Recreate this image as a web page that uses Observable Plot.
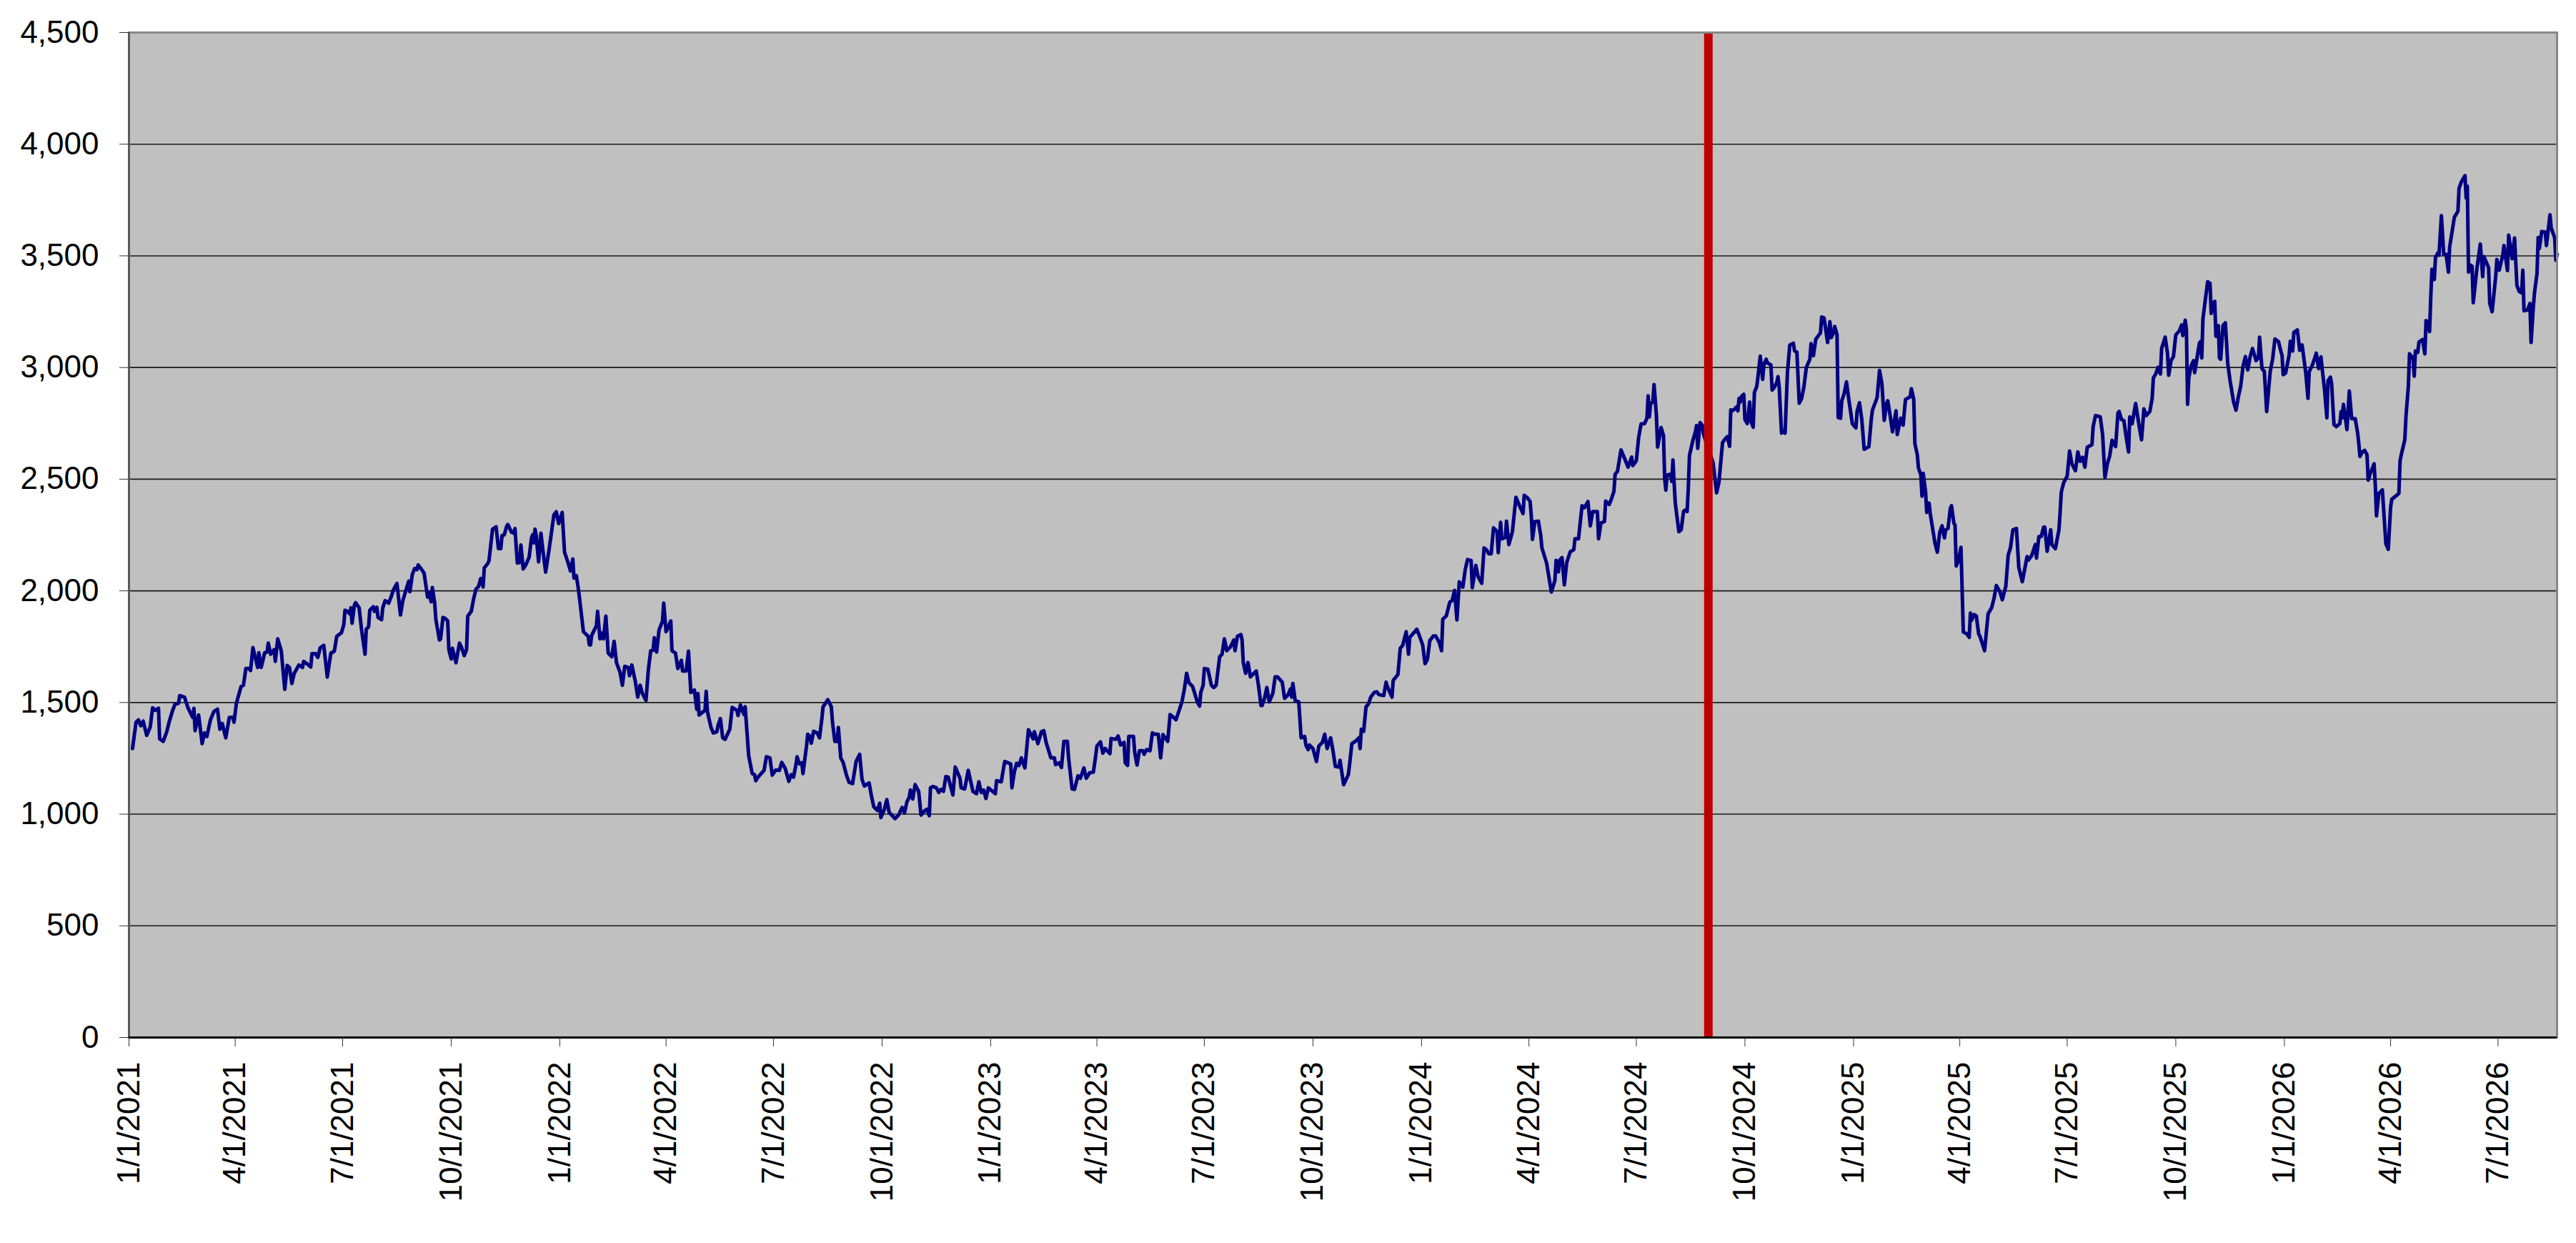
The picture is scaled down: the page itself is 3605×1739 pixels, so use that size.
<!DOCTYPE html>
<html>
<head>
<meta charset="utf-8">
<script src="https://cdn.jsdelivr.net/npm/d3@7"></script>
<script src="https://cdn.jsdelivr.net/npm/@observablehq/plot@0.6"></script>
<style>
html, body { margin: 0; padding: 0; background: #ffffff; }
#chart svg { display: block; }
</style>
</head>
<body>
<div id="chart"></div>
<script>
const dates = [
"2021-01-04","2021-01-07","2021-01-09","2021-01-11","2021-01-13","2021-01-16","2021-01-19","2021-01-21","2021-01-23","2021-01-26","2021-01-27","2021-01-30",
"2021-02-02","2021-02-04","2021-02-07","2021-02-09","2021-02-12","2021-02-13","2021-02-17","2021-02-20","2021-02-24","2021-02-25","2021-02-26",
"2021-03-01","2021-03-04","2021-03-06","2021-03-08","2021-03-11","2021-03-14","2021-03-17","2021-03-19","2021-03-21","2021-03-24","2021-03-27","2021-03-30","2021-03-31",
"2021-04-02","2021-04-06","2021-04-08","2021-04-10","2021-04-13","2021-04-14","2021-04-16","2021-04-20","2021-04-21","2021-04-23","2021-04-26","2021-04-28","2021-04-29",
"2021-05-01","2021-05-04","2021-05-05","2021-05-07","2021-05-10","2021-05-13","2021-05-15","2021-05-17","2021-05-19","2021-05-21","2021-05-25","2021-05-28","2021-05-29",
"2021-06-01","2021-06-04","2021-06-05","2021-06-08","2021-06-10","2021-06-12","2021-06-15","2021-06-16","2021-06-18","2021-06-21","2021-06-24","2021-06-26","2021-06-30",
"2021-07-02","2021-07-03","2021-07-05","2021-07-07","2021-07-08","2021-07-09","2021-07-11","2021-07-12","2021-07-15","2021-07-17","2021-07-20","2021-07-21","2021-07-23","2021-07-24","2021-07-27","2021-07-28","2021-07-30","2021-07-31",
"2021-08-03","2021-08-04","2021-08-06","2021-08-09","2021-08-11","2021-08-13","2021-08-16","2021-08-19","2021-08-21","2021-08-24","2021-08-26","2021-08-27","2021-08-29","2021-08-31",
"2021-09-02","2021-09-03","2021-09-06","2021-09-08","2021-09-11","2021-09-12","2021-09-14","2021-09-15","2021-09-17","2021-09-18","2021-09-21","2021-09-22","2021-09-24","2021-09-26","2021-09-28","2021-09-29",
"2021-10-01","2021-10-02","2021-10-05","2021-10-08","2021-10-10","2021-10-12","2021-10-14","2021-10-15","2021-10-18","2021-10-20","2021-10-22","2021-10-24","2021-10-26","2021-10-28","2021-10-29",
"2021-11-01","2021-11-02","2021-11-05","2021-11-08","2021-11-10","2021-11-12","2021-11-13","2021-11-15","2021-11-17","2021-11-18","2021-11-21","2021-11-23","2021-11-24","2021-11-26","2021-11-28","2021-11-29",
"2021-12-01","2021-12-03","2021-12-06","2021-12-08","2021-12-09","2021-12-10","2021-12-11","2021-12-12","2021-12-14","2021-12-16","2021-12-18","2021-12-20","2021-12-23","2021-12-25","2021-12-27","2021-12-29","2021-12-31",
"2022-01-03","2022-01-05","2022-01-08","2022-01-10","2022-01-12","2022-01-13","2022-01-15","2022-01-17","2022-01-21","2022-01-25","2022-01-26","2022-01-27","2022-01-28",
"2022-02-01","2022-02-02","2022-02-04","2022-02-05","2022-02-07","2022-02-09","2022-02-11","2022-02-14","2022-02-16","2022-02-18","2022-02-21","2022-02-23","2022-02-25","2022-02-28",
"2022-03-01","2022-03-03","2022-03-06","2022-03-08","2022-03-10","2022-03-12","2022-03-15","2022-03-17","2022-03-19","2022-03-21","2022-03-22","2022-03-24","2022-03-26","2022-03-29","2022-03-30",
"2022-04-01","2022-04-02","2022-04-05","2022-04-06","2022-04-09","2022-04-11","2022-04-14","2022-04-15","2022-04-18","2022-04-20","2022-04-22","2022-04-25","2022-04-27","2022-04-28","2022-04-29",
"2022-05-04","2022-05-05","2022-05-06","2022-05-09","2022-05-11","2022-05-14","2022-05-15","2022-05-17","2022-05-19","2022-05-21","2022-05-24","2022-05-25","2022-05-27","2022-05-31",
"2022-06-01","2022-06-03","2022-06-06","2022-06-07","2022-06-10","2022-06-13","2022-06-15","2022-06-16","2022-06-18","2022-06-22","2022-06-23","2022-06-25","2022-06-28","2022-06-30",
"2022-07-03","2022-07-06","2022-07-08","2022-07-11","2022-07-14","2022-07-16","2022-07-18","2022-07-20","2022-07-21","2022-07-23","2022-07-25","2022-07-26","2022-07-29","2022-07-30",
"2022-08-01","2022-08-02","2022-08-04","2022-08-07","2022-08-09","2022-08-11","2022-08-12","2022-08-16","2022-08-19","2022-08-20","2022-08-22","2022-08-24","2022-08-25","2022-08-27","2022-08-29",
"2022-09-01","2022-09-03","2022-09-06","2022-09-09","2022-09-12","2022-09-14","2022-09-16","2022-09-20","2022-09-22","2022-09-24","2022-09-27","2022-09-29","2022-09-30",
"2022-10-03","2022-10-05","2022-10-07","2022-10-12","2022-10-15","2022-10-18","2022-10-20","2022-10-22","2022-10-24","2022-10-25","2022-10-27","2022-10-29",
"2022-11-01","2022-11-03","2022-11-06","2022-11-08","2022-11-10","2022-11-11","2022-11-13","2022-11-16","2022-11-18","2022-11-20","2022-11-22","2022-11-24","2022-11-26","2022-11-30",
"2022-12-02","2022-12-06","2022-12-07","2022-12-10","2022-12-13","2022-12-17","2022-12-20","2022-12-22","2022-12-24","2022-12-26","2022-12-28","2022-12-30",
"2023-01-02","2023-01-05","2023-01-06","2023-01-10","2023-01-12","2023-01-13","2023-01-18","2023-01-19","2023-01-21","2023-01-23","2023-01-25","2023-01-27","2023-01-30",
"2023-02-02","2023-02-06","2023-02-07","2023-02-10","2023-02-13","2023-02-15","2023-02-17","2023-02-21","2023-02-24","2023-02-25","2023-02-28",
"2023-03-02","2023-03-04","2023-03-07","2023-03-08","2023-03-11","2023-03-13","2023-03-16","2023-03-18","2023-03-21","2023-03-23","2023-03-26","2023-03-29","2023-03-31",
"2023-04-01","2023-04-04","2023-04-06","2023-04-08","2023-04-12","2023-04-13","2023-04-17","2023-04-19","2023-04-21","2023-04-24","2023-04-25","2023-04-27","2023-04-28",
"2023-05-02","2023-05-03","2023-05-05","2023-05-07","2023-05-10","2023-05-11","2023-05-13","2023-05-16","2023-05-18","2023-05-20","2023-05-23","2023-05-25","2023-05-27","2023-05-31",
"2023-06-02","2023-06-05","2023-06-07","2023-06-09","2023-06-12","2023-06-14","2023-06-16","2023-06-18","2023-06-21","2023-06-22","2023-06-25","2023-06-27","2023-06-28","2023-06-30",
"2023-07-01","2023-07-04","2023-07-07","2023-07-09","2023-07-11","2023-07-14","2023-07-16","2023-07-18","2023-07-20","2023-07-23","2023-07-26","2023-07-27","2023-07-29",
"2023-08-01","2023-08-02","2023-08-03","2023-08-05","2023-08-07","2023-08-09","2023-08-14","2023-08-16","2023-08-18","2023-08-19","2023-08-21","2023-08-23","2023-08-25","2023-08-28","2023-08-30",
"2023-09-01","2023-09-05","2023-09-07","2023-09-10","2023-09-12","2023-09-13","2023-09-14","2023-09-16","2023-09-19","2023-09-21","2023-09-24","2023-09-25","2023-09-27","2023-09-28",
"2023-10-01","2023-10-04","2023-10-06","2023-10-09","2023-10-11","2023-10-13","2023-10-16","2023-10-18","2023-10-20","2023-10-23","2023-10-24","2023-10-27","2023-10-31",
"2023-11-01","2023-11-03","2023-11-06","2023-11-09","2023-11-10","2023-11-11","2023-11-13","2023-11-15","2023-11-17","2023-11-19","2023-11-22","2023-11-24","2023-11-26","2023-11-30",
"2023-12-02","2023-12-03","2023-12-07","2023-12-08","2023-12-12","2023-12-14","2023-12-16","2023-12-19","2023-12-21","2023-12-22","2023-12-28","2023-12-30",
"2024-01-02","2024-01-04","2024-01-06","2024-01-08","2024-01-11","2024-01-13","2024-01-16","2024-01-18","2024-01-19","2024-01-22","2024-01-25","2024-01-27","2024-01-29","2024-01-31",
"2024-02-02","2024-02-05","2024-02-07","2024-02-09","2024-02-12","2024-02-13","2024-02-16","2024-02-18","2024-02-21","2024-02-23","2024-02-25","2024-02-27","2024-02-29",
"2024-03-02","2024-03-05","2024-03-06","2024-03-08","2024-03-09","2024-03-12","2024-03-13","2024-03-15","2024-03-18","2024-03-21","2024-03-24","2024-03-27","2024-03-28","2024-03-31",
"2024-04-02","2024-04-03","2024-04-04","2024-04-06","2024-04-09","2024-04-11","2024-04-12","2024-04-16","2024-04-18","2024-04-20","2024-04-23","2024-04-24","2024-04-26","2024-04-27","2024-04-29",
"2024-05-01","2024-05-03","2024-05-06","2024-05-09","2024-05-10","2024-05-13","2024-05-16","2024-05-18","2024-05-21","2024-05-23","2024-05-25","2024-05-29","2024-05-30",
"2024-06-01","2024-06-04","2024-06-05","2024-06-08","2024-06-10","2024-06-12","2024-06-13","2024-06-15","2024-06-18","2024-06-21","2024-06-24","2024-06-27","2024-06-28",
"2024-07-01","2024-07-03","2024-07-05","2024-07-08","2024-07-10","2024-07-11","2024-07-12","2024-07-13","2024-07-15","2024-07-16","2024-07-18","2024-07-19","2024-07-21","2024-07-22","2024-07-24","2024-07-25","2024-07-26","2024-07-27","2024-07-30","2024-07-31",
"2024-08-01","2024-08-02","2024-08-03","2024-08-06","2024-08-08","2024-08-10","2024-08-11","2024-08-13","2024-08-14","2024-08-15","2024-08-18","2024-08-20","2024-08-21","2024-08-22","2024-08-24","2024-08-26","2024-08-27",
"2024-09-04","2024-09-07","2024-09-09","2024-09-12","2024-09-14","2024-09-16","2024-09-18","2024-09-19","2024-09-21","2024-09-24","2024-09-25","2024-09-26","2024-09-27","2024-09-28","2024-09-30",
"2024-10-01","2024-10-03","2024-10-05","2024-10-06","2024-10-08","2024-10-09","2024-10-11","2024-10-12","2024-10-13","2024-10-14","2024-10-16","2024-10-17","2024-10-19","2024-10-20","2024-10-23","2024-10-24","2024-10-26","2024-10-28","2024-10-29","2024-10-30",
"2024-11-01","2024-11-03","2024-11-04","2024-11-06","2024-11-08","2024-11-11","2024-11-12","2024-11-14","2024-11-16","2024-11-18","2024-11-20","2024-11-22","2024-11-25","2024-11-26","2024-11-28","2024-11-30",
"2024-12-02","2024-12-04","2024-12-05","2024-12-07","2024-12-10","2024-12-12","2024-12-13","2024-12-15","2024-12-16","2024-12-18","2024-12-19","2024-12-21","2024-12-22","2024-12-24","2024-12-26","2024-12-28","2024-12-31",
"2025-01-03","2025-01-04","2025-01-06","2025-01-08","2025-01-10","2025-01-14","2025-01-16","2025-01-17","2025-01-21","2025-01-23","2025-01-25","2025-01-27","2025-01-29","2025-01-30",
"2025-02-01","2025-02-03","2025-02-06","2025-02-07","2025-02-10","2025-02-12","2025-02-14","2025-02-18","2025-02-19","2025-02-21","2025-02-22","2025-02-24","2025-02-25","2025-02-27","2025-02-28",
"2025-03-01","2025-03-03","2025-03-04","2025-03-06","2025-03-07","2025-03-11","2025-03-13","2025-03-15","2025-03-17","2025-03-19","2025-03-20","2025-03-22","2025-03-24","2025-03-25","2025-03-27","2025-03-28","2025-03-29","2025-03-31",
"2025-04-02","2025-04-04","2025-04-07","2025-04-09","2025-04-10","2025-04-11","2025-04-13","2025-04-15","2025-04-17","2025-04-18","2025-04-22","2025-04-25","2025-04-28","2025-04-30",
"2025-05-02","2025-05-05","2025-05-07","2025-05-10","2025-05-12","2025-05-14","2025-05-16","2025-05-19","2025-05-21","2025-05-24","2025-05-28","2025-05-29",
"2025-06-01","2025-06-04","2025-06-05","2025-06-07","2025-06-09","2025-06-11","2025-06-12","2025-06-14","2025-06-17","2025-06-18","2025-06-21","2025-06-24","2025-06-25","2025-06-26","2025-06-28",
"2025-07-01","2025-07-03","2025-07-05","2025-07-08","2025-07-10","2025-07-12","2025-07-14","2025-07-16","2025-07-18","2025-07-22","2025-07-23","2025-07-25","2025-07-29","2025-07-31",
"2025-08-02","2025-08-04","2025-08-06","2025-08-08","2025-08-11","2025-08-13","2025-08-14","2025-08-16","2025-08-18","2025-08-20","2025-08-22","2025-08-23","2025-08-25","2025-08-28","2025-08-31",
"2025-09-02","2025-09-04","2025-09-06","2025-09-09","2025-09-11","2025-09-12","2025-09-14","2025-09-16","2025-09-18","2025-09-19","2025-09-22","2025-09-24","2025-09-25","2025-09-27","2025-09-29",
"2025-10-01","2025-10-04","2025-10-06","2025-10-07","2025-10-09","2025-10-10","2025-10-11","2025-10-12","2025-10-14","2025-10-16","2025-10-17","2025-10-19","2025-10-21","2025-10-22","2025-10-23","2025-10-24","2025-10-26","2025-10-28","2025-10-30","2025-10-31",
"2025-11-02","2025-11-03","2025-11-04","2025-11-06","2025-11-07","2025-11-08","2025-11-10","2025-11-12","2025-11-14","2025-11-16","2025-11-19","2025-11-21","2025-11-23","2025-11-25","2025-11-27","2025-11-29",
"2025-12-01","2025-12-03","2025-12-05","2025-12-08","2025-12-10","2025-12-11","2025-12-13","2025-12-15","2025-12-17","2025-12-20","2025-12-22","2025-12-24","2025-12-27","2025-12-29","2025-12-30","2025-12-31",
"2026-01-02","2026-01-05","2026-01-06","2026-01-08","2026-01-09","2026-01-12","2026-01-14","2026-01-16","2026-01-19","2026-01-21","2026-01-22","2026-01-25","2026-01-28","2026-01-30",
"2026-02-01","2026-02-02","2026-02-04","2026-02-06","2026-02-07","2026-02-09","2026-02-10","2026-02-12","2026-02-14","2026-02-17","2026-02-18","2026-02-19","2026-02-20","2026-02-23","2026-02-25","2026-02-27",
"2026-03-02","2026-03-04","2026-03-05","2026-03-06","2026-03-08","2026-03-10","2026-03-12","2026-03-13","2026-03-15","2026-03-18","2026-03-19","2026-03-20","2026-03-22","2026-03-25","2026-03-28","2026-03-30",
"2026-04-01","2026-04-02","2026-04-05","2026-04-08","2026-04-09","2026-04-10","2026-04-13","2026-04-14","2026-04-16","2026-04-17","2026-04-20","2026-04-21","2026-04-22","2026-04-24","2026-04-25","2026-04-28","2026-04-30",
"2026-05-01","2026-05-02","2026-05-04","2026-05-05","2026-05-06","2026-05-08","2026-05-09","2026-05-11","2026-05-12","2026-05-14","2026-05-16","2026-05-18","2026-05-20","2026-05-21","2026-05-23","2026-05-25","2026-05-28","2026-05-29","2026-05-31",
"2026-06-03","2026-06-04","2026-06-05","2026-06-06","2026-06-07","2026-06-09","2026-06-10","2026-06-13","2026-06-16","2026-06-18","2026-06-19","2026-06-23","2026-06-24","2026-06-26","2026-06-29","2026-06-30",
"2026-07-02","2026-07-05","2026-07-06","2026-07-09","2026-07-10","2026-07-13","2026-07-15","2026-07-17","2026-07-19","2026-07-21","2026-07-22","2026-07-23","2026-07-26","2026-07-28","2026-07-29","2026-07-31",
"2026-08-01","2026-08-03","2026-08-04","2026-08-05","2026-08-07","2026-08-10","2026-08-11","2026-08-14","2026-08-15","2026-08-18","2026-08-19","2026-08-20"
];

const values = [
1294,1412,1422,1396,1417,1353,1390,1476,1465,1474,1337,1326,
1369,1412,1465,1492,1497,1531,1524,1476,1433,1474,1374,
1444,1316,1364,1348,1422,1460,1470,1380,1406,1342,1433,1433,1412,
1497,1572,1577,1652,1652,1643,1746,1657,1723,1657,1723,1726,1766,
1716,1737,1684,1785,1732,1559,1666,1657,1585,1631,1668,1657,1684,
1673,1659,1719,1719,1702,1745,1756,1710,1614,1721,1730,1796,1812,
1849,1913,1908,1897,1924,1855,1937,1947,1924,1828,1716,1828,1839,1913,1929,1908,1926,1881,
1871,1924,1956,1945,1972,2004,2033,1892,1956,2009,2043,1996,2073,2100,
2095,2116,2095,2079,1972,1993,1951,2015,1945,1871,1780,1785,1881,1876,1865,1737,
1695,1743,1678,1766,1743,1710,1737,1887,1908,1965,2008,2018,2055,2018,2103,
2123,2135,2276,2287,2189,2189,2247,2251,2290,2297,2263,2258,2279,2125,2127,2205,
2098,2114,2151,2237,2251,2215,2276,2247,2130,2258,2167,2084,2189,2265,2340,2354,2301,
2351,2173,2125,2089,2143,2057,2068,1998,1817,1796,1758,1758,1801,
1844,1908,1785,1812,1785,1887,1721,1705,1774,1678,1636,1577,1662,1657,
1620,1668,1593,1524,1577,1540,1510,1646,1732,1734,1790,1726,1823,1865,1945,
1817,1828,1865,1732,1721,1652,1689,1641,1641,1730,1545,1556,1470,1540,1444,
1465,1550,1460,1390,1364,1369,1396,1428,1342,1335,1369,1380,1478,1465,
1442,1489,1446,1481,1262,1182,1177,1150,1166,1190,1196,1257,1252,1175,
1198,1196,1232,1204,1147,1177,1166,1220,1257,1225,1230,1182,1305,1358,
1348,1318,1371,1364,1342,1428,1481,1513,1481,1412,1326,1326,1388,1252,1232,
1172,1143,1137,1236,1268,1156,1126,1140,1081,1033,1017,1049,985,
1022,1065,1008,980,996,1030,1006,1054,1076,1108,1068,1132,
1102,996,1015,1022,993,1118,1124,1118,1097,1111,1102,1168,1166,1086,
1211,1161,1118,1113,1196,1102,1092,1145,1097,1108,1070,1118,
1105,1092,1150,1145,1209,1236,1225,1118,1188,1228,1218,1252,1207,
1378,1337,1369,1316,1369,1374,1321,1252,1252,1222,1230,
1209,1326,1326,1252,1113,1111,1172,1161,1207,1161,1186,1188,1262,
1305,1324,1273,1294,1271,1339,1335,1350,1310,1321,1230,1218,1348,
1348,1278,1220,1284,1284,1268,1289,1284,1364,1358,1358,1252,1356,1326,
1446,1433,1423,1454,1503,1556,1631,1588,1572,1556,1503,1484,1545,1577,
1652,1649,1577,1567,1577,1705,1716,1785,1732,1748,1780,1732,1796,
1804,1780,1679,1631,1679,1615,1641,1572,1487,1487,1519,1567,1503,1540,1615,
1615,1591,1519,1535,1561,1524,1585,1508,1503,1342,1348,1310,1289,1310,
1294,1236,1305,1321,1358,1294,1342,1284,1214,1211,1241,1132,1177,
1220,1316,1326,1342,1294,1380,1371,1481,1492,1524,1545,1548,1535,1531,
1591,1572,1524,1599,1625,1743,1755,1817,1716,1791,1828,1802,
1757,1674,1693,1777,1798,1798,1770,1732,1873,1888,1950,1957,2002,1870,
2040,2017,2094,2140,2136,2014,2114,2063,2034,2192,2184,2166,2166,
2282,2265,2171,2307,2233,2239,2312,2207,2265,2419,2381,2346,2428,2415,
2400,2336,2230,2310,2312,2248,2192,2124,2059,1995,2047,2136,2085,2136,2149,
2027,2127,2175,2184,2233,2233,2381,2372,2400,2291,2355,2355,2233,
2304,2310,2402,2387,2413,2445,2522,2535,2631,2593,2554,2599,2561,
2583,2689,2747,2749,2773,2873,2779,2837,2847,2924,2785,2644,2702,2731,2695,2503,2451,2518,2522,2490,
2586,2483,2393,2265,2274,2355,2361,2355,2458,2606,2676,2711,2740,2638,2753,2740,2700,
2573,2439,2487,2663,2679,2690,2647,2810,2808,2824,2806,2861,2845,2870,2880,
2767,2749,2845,2760,2733,2888,2915,2957,3005,3051,2947,3011,3037,3021,3011,2899,2912,2934,2959,2915,
2706,2717,2706,2979,3101,3109,3075,3069,2840,2861,2915,3000,3037,3107,3053,3126,
3141,3155,3226,3222,3112,3205,3134,3155,3184,3147,2776,2773,2850,2882,2936,2857,2748,
2730,2803,2842,2767,2634,2646,2767,2809,2866,2987,2929,2763,2839,2851,
2785,2712,2806,2700,2773,2742,2857,2869,2905,2857,2658,2610,2550,2520,2424,
2526,2445,2351,2393,2345,2213,2173,2261,2291,2237,2273,2279,2369,2381,2303,2294,2111,2137,
2195,1816,1807,1792,1900,1868,1894,1888,1807,1798,1732,1897,1924,1966,
2024,1996,1960,2020,2159,2195,2273,2279,2105,2041,2153,2137,
2159,2207,2147,2243,2243,2285,2285,2177,2273,2207,2189,2273,2351,2442,2484,
2514,2626,2568,2538,2622,2580,2598,2554,2643,2655,2736,2785,2779,2700,
2508,2568,2604,2674,2646,2797,2803,2767,2763,2688,2622,2779,2748,2839,2736,
2676,2815,2785,2803,2863,2953,2971,3001,2971,3085,3136,3061,2965,3031,3049,
3146,3164,3191,3143,3212,3170,2835,2953,3007,3031,2977,3043,3110,3116,3043,3218,3302,3384,3377,3242,
3290,3296,3140,3188,3043,3037,3188,3200,3019,2941,2845,2809,2869,2917,3007,3049,
2989,3049,3085,3031,3043,3136,2995,2983,2803,2983,3037,3128,3116,3073,3055,2968,
2975,3055,3117,3074,3157,3168,3077,3101,2981,2862,2981,3015,3064,2995,
3048,2995,2902,2775,2941,2957,2928,2745,2735,2749,2802,2775,2835,2722,2895,2771,
2771,2709,2662,2602,2622,2629,2609,2496,2529,2569,2476,2336,2436,2452,2210,2186,
2376,2410,2423,2436,2582,2609,2676,2782,2915,3061,3041,2961,3074,3068,3114,3125,3061,
3210,3207,3161,3314,3440,3394,3493,3513,3503,3680,3507,3507,3427,3540,3606,3673,3699,3803,3832,
3859,3759,3812,3427,3460,3453,3290,3440,3553,3407,3497,3447,3287,3250,3407,3484,
3436,3503,3546,3434,3593,3487,3580,3367,3340,3334,3436,3254,3258,3287,3112,3280,
3340,3420,3582,3533,3609,3606,3546,3684,3626,3580,3480,3507
];

const xTickDates = [
"2021-01-01","2021-04-01","2021-07-01","2021-10-01",
"2022-01-01","2022-04-01","2022-07-01","2022-10-01",
"2023-01-01","2023-04-01","2023-07-01","2023-10-01",
"2024-01-01","2024-04-01","2024-07-01","2024-10-01",
"2025-01-01","2025-04-01","2025-07-01","2025-10-01",
"2026-01-01","2026-04-01","2026-07-01"
];
const yTicks = [0, 500, 1000, 1500, 2000, 2500, 3000, 3500, 4000, 4500];
const xDomain = ["2021-01-01", "2026-08-20"];
const markerDate = ["2024-08-31"];

const parse = d3.utcParse("%Y-%m-%d");
const n = Math.min(dates.length, values.length);
const data = [];
for (let i = 0; i < n; i++) data.push({date: parse(dates[i]), value: values[i]});

const chart = Plot.plot({
  width: 3605,
  height: 1739,
  marginLeft: 180,
  marginRight: 27,
  marginTop: 45,
  marginBottom: 288,
  style: {
    fontFamily: "'Liberation Sans', Arial, Helvetica, sans-serif",
    fontSize: "44px",
    color: "#000000",
    background: "#ffffff",
    overflow: "visible"
  },
  x: {type: "utc", domain: xDomain.map(parse)},
  y: {domain: [0, 4500]},
  marks: [
    Plot.frame({fill: "#C0C0C0", stroke: null}),
    Plot.gridY(yTicks, {stroke: "#1a1a1a", strokeOpacity: 1, strokeWidth: 1.6}),
    Plot.lineY(data, {x: "date", y: "value", stroke: "#000080", strokeWidth: 5, strokeLinejoin: "round"}),
    Plot.ruleX(markerDate.map(parse), {stroke: "#C00000", strokeWidth: 12}),
    Plot.frame({stroke: "#888888", strokeWidth: 3}),
    Plot.ruleX([parse(xDomain[0])], {stroke: "#5a5a5a", strokeWidth: 3}),
    Plot.ruleY([0], {stroke: "#000000", strokeWidth: 3}),
    Plot.axisY(yTicks, {
      tickSize: 13, tickPadding: 29, tickFormat: d3.format(","),
      fontSize: 44, stroke: "#333333", label: null
    }),
    Plot.axisX(xTickDates.map(parse), {
      tickSize: 13, tickPadding: 21, tickRotate: -90,
      tickFormat: d3.utcFormat("%-m/%-d/%Y"),
      fontSize: 44, stroke: "#333333", label: null
    })
  ]
});

document.getElementById("chart").appendChild(chart);
</script>
</body>
</html>
